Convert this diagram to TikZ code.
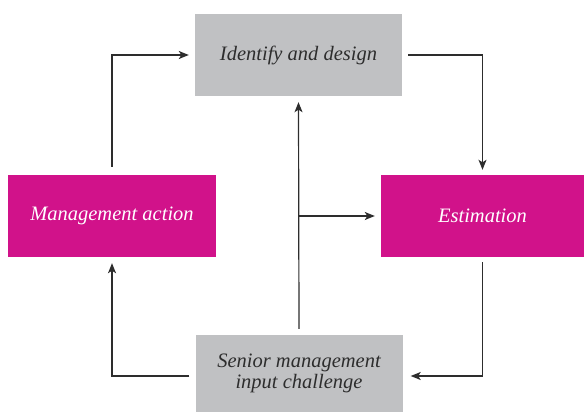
\documentclass[tikz,border=0pt]{standalone}
\usepackage{fontspec}
\newfontfamily\diagfont{Liberation Serif}
\usetikzlibrary{arrows.meta}
\definecolor{mag}{RGB}{209,18,138}
\definecolor{boxgray}{RGB}{192,193,195}
\definecolor{ink}{RGB}{45,45,45}
\tikzset{
  graybox/.style={fill=boxgray, text=ink, minimum width=207pt, minimum height=82pt, inner sep=0pt, align=center, font=\diagfont\fontsize{20.5}{21.5}\selectfont\itshape},
  magbox/.style={fill=mag, text=white, minimum height=82pt, inner sep=0pt, align=center, font=\diagfont\fontsize{20.5}{21.5}\selectfont\itshape},
  arr/.style={draw=ink, line width=1.2pt, -{Stealth[length=10pt,width=8pt,inset=2.5pt]}},
}
\begin{document}
\begin{tikzpicture}[x=1pt,y=-1pt]
\useasboundingbox (0,0) rectangle (584,412);
\node[graybox] (top) at (298.5,55) {Identify and design};
\node[magbox, minimum width=208pt] (left) at (112,216) {Management action};
\node[magbox, minimum width=203pt] (right) at (482.5,216) {Estimation};
\node[graybox, minimum height=77pt] (bottom) at (299,373.5) {Senior management\\input challenge};
\draw[arr] ([xshift=-6pt,yshift=-2.5pt]bottom.west) -| ([yshift=-6pt]left.south);
\draw[arr] ([yshift=8pt]left.north) |- ([xshift=-6pt]top.west);
\draw[arr] ([xshift=6pt]top.east) -| ([yshift=5pt]right.north);
\draw[arr] ([yshift=-5pt]right.south) |- ([xshift=8pt,yshift=-2.5pt]bottom.east);
\draw[arr] ([yshift=6pt]bottom.north) -- ([yshift=-6pt]top.south);
\coordinate (j) at (bottom.north |- right.west);
\draw[arr] (j) -- ([xshift=-6pt]right.west);
\end{tikzpicture}
\end{document}
